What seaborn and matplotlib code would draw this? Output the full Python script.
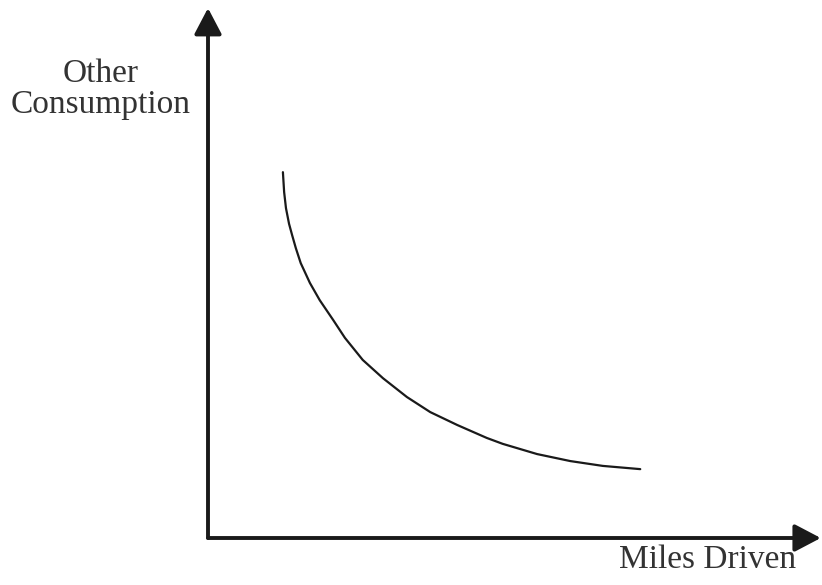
"""
Indifference curve: other consumption vs miles driven
"""

import pandas as pd
import seaborn as sns
import matplotlib
matplotlib.use("Agg")
import matplotlib.pyplot as plt

# Curve (arbitrary units, axes run 0..10)
miles_driven = [1.22, 1.24, 1.27, 1.32, 1.37, 1.43, 1.51, 1.66, 1.82, 2.04, 2.23,
                2.52, 2.85, 3.24, 3.62, 4.06, 4.54, 4.80, 5.36, 5.90, 6.43, 7.04]
other_consumption = [6.80, 6.43, 6.13, 5.84, 5.63, 5.39, 5.11, 4.74, 4.42, 4.05, 3.72,
                     3.31, 2.97, 2.62, 2.34, 2.10, 1.86, 1.75, 1.56, 1.43, 1.34, 1.28]

x_label = "Miles Driven"
y_label_lines = ["Other", "Consumption"]


def indifference_curve():
    sns.set_style("white")
    plt.rcParams['font.family'] = ['Liberation Serif', 'DejaVu Serif']

    df = pd.DataFrame({'miles': miles_driven, 'other': other_consumption})

    fig = plt.figure(figsize=(8.22, 5.85), dpi=100)
    ax = fig.add_axes([208 / 822, 47 / 585, 614 / 822, 538 / 585])

    sns.lineplot(data=df, x='miles', y='other', color='#1a1a1a',
                 linewidth=1.6, ax=ax, solid_joinstyle='round')

    ax.set_xlim(0, 10)
    ax.set_ylim(0, 10)
    ax.set_xticks([])
    ax.set_yticks([])
    ax.set_xlabel('')
    ax.set_ylabel('')
    sns.despine(ax=ax, left=True, bottom=True)

    # axes drawn as arrows
    arrow = dict(arrowstyle='-|>,head_length=0.8,head_width=0.42',
                 color='#1a1a1a', lw=2.8, mutation_scale=20,
                 shrinkA=0, shrinkB=0)
    ax.annotate('', xy=(0, 0.985), xytext=(0, 0), xycoords='axes fraction',
                textcoords='axes fraction', arrowprops=arrow, annotation_clip=False)
    ax.annotate('', xy=(0.998, 0), xytext=(0, 0), xycoords='axes fraction',
                textcoords='axes fraction', arrowprops=arrow, annotation_clip=False)

    fig.text(101 / 822, 1 - 82 / 585, y_label_lines[0], ha='center', va='baseline',
             fontsize=24, color='#333333')
    fig.text(101 / 822, 1 - 113 / 585, y_label_lines[1], ha='center', va='baseline',
             fontsize=24, color='#333333')
    fig.text(708 / 822, 1 - 568 / 585, x_label, ha='center', va='baseline',
             fontsize=24, color='#333333')

    plt.savefig('out.png', dpi=100)


if __name__ == "__main__":
    indifference_curve()
